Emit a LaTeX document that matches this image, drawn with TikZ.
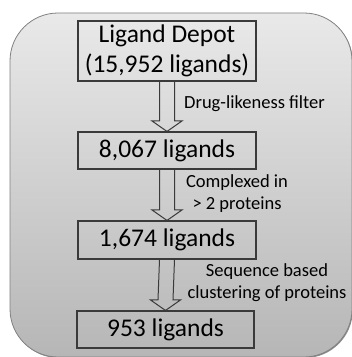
\documentclass[tikz,border=0pt]{standalone}
\usepackage{fontspec}
\setmainfont{Carlito}
\usetikzlibrary{positioning,calc}
\definecolor{FondoArriba}{HTML}{E9E9E9}
\definecolor{FondoAbajo}{HTML}{B6B6B6}
\definecolor{Trazo}{HTML}{3A3A3A}
\newcommand{\flechahueca}[2]{%
  \draw[hueca] ($(#1.south)+(-7.5,0)$) -- ($(#2.north)+(-7.5,10.5)$)
    -- ++(-7.5,0) -- (#2.north) -- ($(#2.north)+(15,10.5)$)
    -- ++(-7.5,0) -- ($(#1.south)+(7.5,0)$);}
\tikzset{
  caja/.style  = {draw=Trazo, line width=1.1pt, align=center, font=\fontsize{25.5}{30}\selectfont,
                  minimum width=178pt, minimum height=37pt, inner sep=0pt},
  hueca/.style = {draw=Trazo, line width=1pt, line join=miter},
  lbl/.style   = {font=\fontsize{18.5}{22}\selectfont, align=center, inner sep=0pt},
}
\begin{document}
\begin{tikzpicture}[x=1pt,y=1pt]
  \useasboundingbox (0,0) rectangle (352,357);
  \begin{scope}
    \clip (0,0) rectangle (352,357);
    % fondo con sombra
    \fill[black!45,rounded corners=48pt] (10.8,-1) rectangle (352.8,343.2);
    \shade[top color=FondoArriba, bottom color=FondoAbajo, draw=black!50, line width=0.8pt,
           rounded corners=48pt] (10,0) rectangle (352,344);
  \end{scope}
  \node[caja, minimum height=60pt] (depot) at (167,306) {Ligand Depot\\(15,952 ligands)};
  \node[caja] (drug) at (167,206.5) {8,067 ligands};
  \node[caja, minimum height=38pt] (cplx) at (167,117) {1,674 ligands};
  \node[caja, minimum width=177pt] (seq) at (165.5,27.5) {953 ligands};
  \flechahueca{depot}{drug}
  \flechahueca{drug}{cplx}
  \flechahueca{cplx}{seq}
  \node[lbl, anchor=west] (l1) at (184,253) {Drug-likeness filter};
  \node[lbl] (l2) at (237,163) {Complexed in\\> 2 proteins};
  \node[lbl] (l3) at (267,74) {Sequence based\\clustering of proteins};
\end{tikzpicture}
\end{document}
